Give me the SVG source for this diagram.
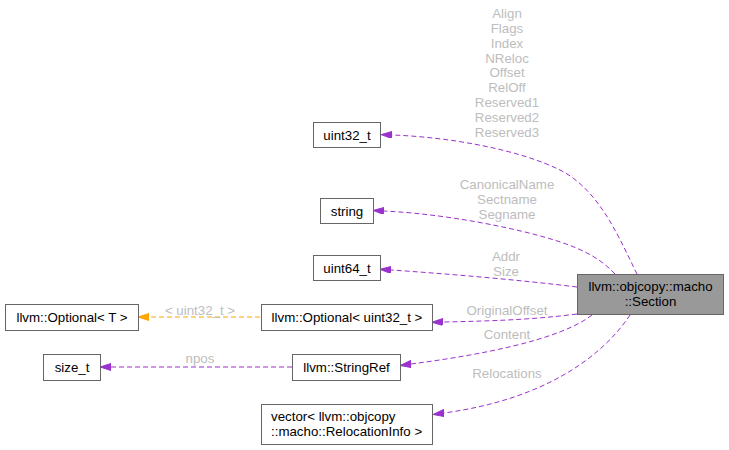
<svg xmlns="http://www.w3.org/2000/svg" width="729" height="450" viewBox="0 0 729 450">
<style>
.node rect{fill:#ffffff;stroke:#666666;stroke-width:1}
.node.main rect{fill:#999999}
.nt{font-family:"Liberation Sans",Arial,sans-serif;font-size:13.3px;fill:#000000;text-anchor:middle}
.nt.l{text-anchor:start}
.el{font-family:"Liberation Sans",Arial,sans-serif;font-size:13.3px;fill:#bdbdbd;text-anchor:middle}
.e{fill:none;stroke:#9a32cd;stroke-width:1;stroke-dasharray:5,3}
.eo{fill:none;stroke:#ffa500;stroke-width:1;stroke-dasharray:5,3}
</style>
<defs>
<marker id="ap" markerWidth="12" markerHeight="8" refX="0" refY="3.5" orient="auto" markerUnits="userSpaceOnUse">
<path d="M0,0 L11,3.5 L0,7 z" fill="#9a32cd" stroke="#9a32cd" stroke-dasharray="none"/>
</marker>
<marker id="ao" markerWidth="12" markerHeight="8" refX="0" refY="3.5" orient="auto" markerUnits="userSpaceOnUse">
<path d="M0,0 L11,3.5 L0,7 z" fill="#ffa500" stroke="#ffa500" stroke-dasharray="none"/>
</marker>
</defs>
<rect width="729" height="450" fill="#ffffff"/>
<g id="edges">
<path class="e" d="M637,274 C620,240 600,190 560,170 C520,150 450,137 392,135" marker-end="url(#ap)"/>
<path class="e" d="M615,274 C595,252 565,242 525,232 C475,220 425,213 384,211" marker-end="url(#ap)"/>
<path class="e" d="M577,287 C520,280 450,274 391,270" marker-end="url(#ap)"/>
<path class="e" d="M577,314 C530,320 490,321 443,322" marker-end="url(#ap)"/>
<path class="e" d="M592,315 C560,340 480,355 411,364" marker-end="url(#ap)"/>
<path class="e" d="M630,315 C600,360 540,400 444,413" marker-end="url(#ap)"/>
<path class="eo" d="M260,317 L149,317" marker-end="url(#ao)"/>
<path class="e" d="M292,367 L111,367" marker-end="url(#ap)"/>
<text class="el" x="507" y="18">Align</text>
<text class="el" x="507" y="33">Flags</text>
<text class="el" x="507" y="48">Index</text>
<text class="el" x="507" y="63">NReloc</text>
<text class="el" x="507" y="77">Offset</text>
<text class="el" x="507" y="92">RelOff</text>
<text class="el" x="507" y="107">Reserved1</text>
<text class="el" x="507" y="122">Reserved2</text>
<text class="el" x="507" y="137">Reserved3</text>
<text class="el" x="507" y="189">CanonicalName</text>
<text class="el" x="507" y="204">Sectname</text>
<text class="el" x="507" y="219">Segname</text>
<text class="el" x="506" y="261">Addr</text>
<text class="el" x="506" y="276">Size</text>
<text class="el" x="507" y="315">OriginalOffset</text>
<text class="el" x="507" y="339">Content</text>
<text class="el" x="507" y="378">Relocations</text>
<text class="el" x="200" y="315">&lt; uint32_t &gt;</text>
<text class="el" x="200" y="363">npos</text>
</g>
<g id="n_section" class="node main">
<rect x="577.5" y="274.5" width="146" height="40"/>
<text class="nt" x="650.5" y="291">llvm::objcopy::macho</text>
<text class="nt" x="650.5" y="306">::Section</text>
</g>
<g id="n_uint32" class="node">
<rect x="313.5" y="122.5" width="67" height="25"/>
<text class="nt" x="347" y="139.5">uint32_t</text>
</g>
<g id="n_string" class="node">
<rect x="320.5" y="198.5" width="53" height="25"/>
<text class="nt" x="347" y="215.5">string</text>
</g>
<g id="n_uint64" class="node">
<rect x="313.5" y="255.5" width="67" height="25"/>
<text class="nt" x="347" y="272.5">uint64_t</text>
</g>
<g id="n_optT" class="node">
<rect x="5.5" y="304.5" width="133" height="26"/>
<text class="nt" x="72" y="322">llvm::Optional&lt; T &gt;</text>
</g>
<g id="n_optU" class="node">
<rect x="261.5" y="304.5" width="171" height="26"/>
<text class="nt" x="347" y="322">llvm::Optional&lt; uint32_t &gt;</text>
</g>
<g id="n_size" class="node">
<rect x="43.5" y="354.5" width="57" height="26"/>
<text class="nt" x="72" y="372">size_t</text>
</g>
<g id="n_strref" class="node">
<rect x="292.5" y="354.5" width="108" height="26"/>
<text class="nt" x="346.5" y="372">llvm::StringRef</text>
</g>
<g id="n_vector" class="node">
<rect x="261.5" y="404.5" width="171" height="40"/>
<text class="nt l" x="271" y="421">vector&lt; llvm::objcopy</text>
<text class="nt l" x="271" y="436">::macho::RelocationInfo &gt;</text>
</g>
</svg>
